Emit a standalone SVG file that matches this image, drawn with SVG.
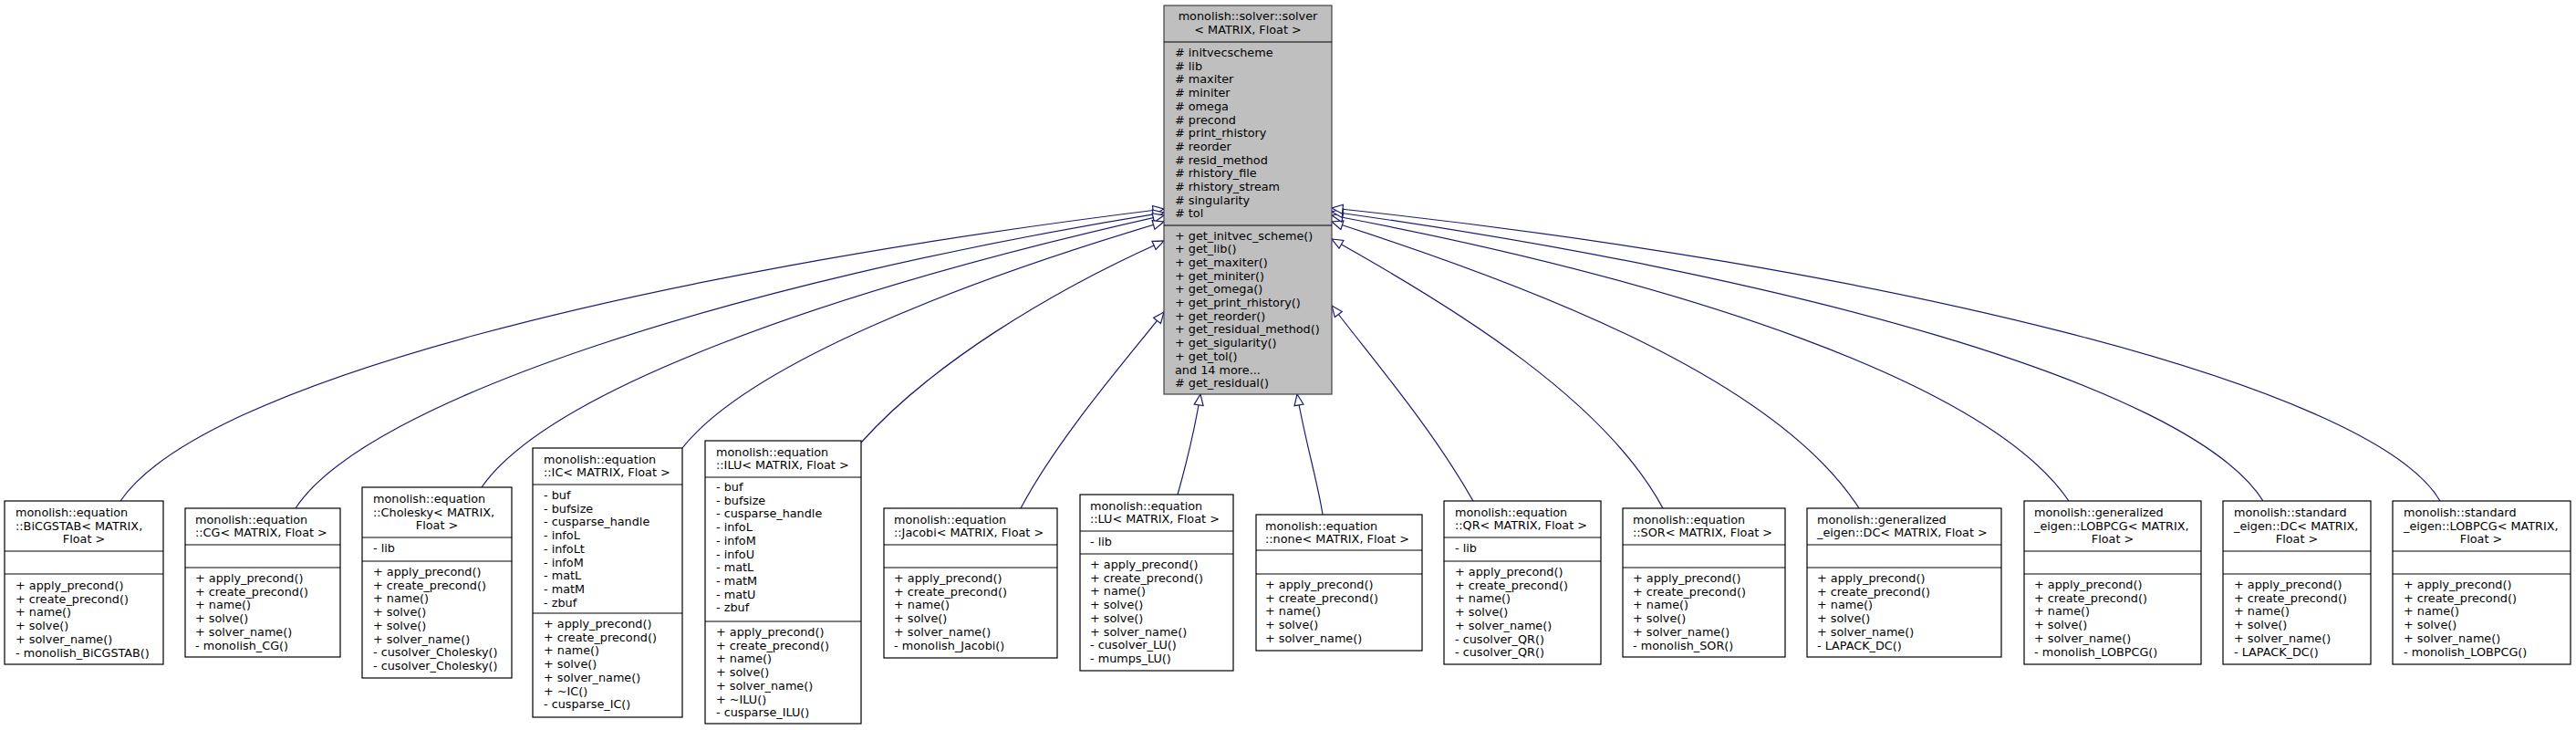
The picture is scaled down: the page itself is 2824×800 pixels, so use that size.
<svg xmlns="http://www.w3.org/2000/svg" width="2824" height="800" viewBox="0 0 2824 800">
<style>
text{font-family:"DejaVu Sans","Liberation Sans",sans-serif;font-size:12.8px;fill:#000}
.c{text-anchor:middle}
.box{fill:#fff;stroke:#000;stroke-width:1.2}
.base{fill:#bfbfbf;stroke:#404040;stroke-width:1.2}
.sep{stroke:#000;stroke-width:1.2}
.e{fill:none;stroke:#191970;stroke-width:1.2;marker-end:url(#tri)}
</style>
<defs>
<marker id="tri" markerWidth="14" markerHeight="12" refX="13" refY="6" orient="auto" markerUnits="userSpaceOnUse">
<path d="M1,1 L13,6 L1,11 Z" fill="#fff" stroke="#191970" stroke-width="1.2"/>
</marker>
</defs>
<g id="connectors">
<path class="e" d="M132,549 C220,420 700,300 1276,229"/>
<path class="e" d="M324,557 C400,440 800,310 1276,233"/>
<path class="e" d="M528,534 C600,430 900,320 1276,236"/>
<path class="e" d="M748,491 C820,400 1050,310 1276,243"/>
<path class="e" d="M944,485 C1020,400 1150,320 1276,264"/>
<path class="e" d="M1119,557 C1160,480 1230,400 1276,342"/>
<path class="e" d="M1291,542 C1300,510 1310,470 1316,432"/>
<path class="e" d="M1450,564 C1445,530 1430,480 1422,432"/>
<path class="e" d="M1615,549 C1570,470 1510,400 1460,335"/>
<path class="e" d="M1823,557 C1760,440 1600,340 1460,262"/>
<path class="e" d="M2038,557 C1950,420 1700,320 1460,243"/>
<path class="e" d="M2268,549 C2180,420 1850,310 1460,236"/>
<path class="e" d="M2481,549 C2400,420 1950,300 1460,232"/>
<path class="e" d="M2675,549 C2600,420 2050,290 1460,228"/>
</g>
<g id="solver">
<rect class="base" x="1276" y="6" width="184" height="426"/>
<text class="c" x="1368" y="22">monolish::solver::solver</text>
<text class="c" x="1368" y="37">&lt; MATRIX, Float &gt;</text>
<line class="sep" x1="1276" y1="46" x2="1460" y2="46"/>
<text x="1288" y="62"># initvecscheme</text>
<text x="1288" y="76.7"># lib</text>
<text x="1288" y="91.4"># maxiter</text>
<text x="1288" y="106.1"># miniter</text>
<text x="1288" y="120.8"># omega</text>
<text x="1288" y="135.5"># precond</text>
<text x="1288" y="150.2"># print_rhistory</text>
<text x="1288" y="164.9"># reorder</text>
<text x="1288" y="179.6"># resid_method</text>
<text x="1288" y="194.3"># rhistory_file</text>
<text x="1288" y="209"># rhistory_stream</text>
<text x="1288" y="223.7"># singularity</text>
<text x="1288" y="238.4"># tol</text>
<line class="sep" x1="1276" y1="247" x2="1460" y2="247"/>
<text x="1288" y="262.5">+ get_initvec_scheme()</text>
<text x="1288" y="277.2">+ get_lib()</text>
<text x="1288" y="291.9">+ get_maxiter()</text>
<text x="1288" y="306.6">+ get_miniter()</text>
<text x="1288" y="321.3">+ get_omega()</text>
<text x="1288" y="336">+ get_print_rhistory()</text>
<text x="1288" y="350.7">+ get_reorder()</text>
<text x="1288" y="365.4">+ get_residual_method()</text>
<text x="1288" y="380.1">+ get_sigularity()</text>
<text x="1288" y="394.8">+ get_tol()</text>
<text x="1288" y="409.5">and 14 more...</text>
<text x="1288" y="424.2"># get_residual()</text>
</g>
<g id="BiCGSTAB">
<rect class="box" x="5" y="549" width="174" height="179"/>
<text x="17" y="566">monolish::equation</text>
<text x="17" y="581">::BiCGSTAB&lt; MATRIX,</text>
<text class="c" x="92" y="595">Float &gt;</text>
<line class="sep" x1="5" y1="604" x2="179" y2="604"/>
<line class="sep" x1="5" y1="629" x2="179" y2="629"/>
<text x="17" y="646">+ apply_precond()</text>
<text x="17" y="660.7">+ create_precond()</text>
<text x="17" y="675.4">+ name()</text>
<text x="17" y="690.1">+ solve()</text>
<text x="17" y="704.8">+ solver_name()</text>
<text x="17" y="719.5">- monolish_BiCGSTAB()</text>
</g>
<g id="CG">
<rect class="box" x="203" y="557" width="170" height="163"/>
<text x="214" y="574">monolish::equation</text>
<text x="214" y="588">::CG&lt; MATRIX, Float &gt;</text>
<line class="sep" x1="203" y1="597" x2="373" y2="597"/>
<line class="sep" x1="203" y1="622" x2="373" y2="622"/>
<text x="214" y="638">+ apply_precond()</text>
<text x="214" y="652.7">+ create_precond()</text>
<text x="214" y="667.4">+ name()</text>
<text x="214" y="682.1">+ solve()</text>
<text x="214" y="696.8">+ solver_name()</text>
<text x="214" y="711.5">- monolish_CG()</text>
</g>
<g id="Cholesky">
<rect class="box" x="397" y="534" width="164" height="209"/>
<text x="409" y="551">monolish::equation</text>
<text x="409" y="565.7">::Cholesky&lt; MATRIX,</text>
<text class="c" x="479" y="580">Float &gt;</text>
<line class="sep" x1="397" y1="589" x2="561" y2="589"/>
<text x="409" y="605">- lib</text>
<line class="sep" x1="397" y1="615" x2="561" y2="615"/>
<text x="409" y="631">+ apply_precond()</text>
<text x="409" y="645.7">+ create_precond()</text>
<text x="409" y="660.4">+ name()</text>
<text x="409" y="675.1">+ solve()</text>
<text x="409" y="689.8">+ solve()</text>
<text x="409" y="704.5">+ solver_name()</text>
<text x="409" y="719.2">- cusolver_Cholesky()</text>
<text x="409" y="733.9">- cusolver_Cholesky()</text>
</g>
<g id="IC">
<rect class="box" x="584" y="491" width="164" height="295"/>
<text x="596" y="508">monolish::equation</text>
<text x="596" y="522">::IC&lt; MATRIX, Float &gt;</text>
<line class="sep" x1="584" y1="531" x2="748" y2="531"/>
<text x="596" y="547">- buf</text>
<text x="596" y="561.7">- bufsize</text>
<text x="596" y="576.4">- cusparse_handle</text>
<text x="596" y="591.1">- infoL</text>
<text x="596" y="605.8">- infoLt</text>
<text x="596" y="620.5">- infoM</text>
<text x="596" y="635.2">- matL</text>
<text x="596" y="649.9">- matM</text>
<text x="596" y="664.6">- zbuf</text>
<line class="sep" x1="584" y1="672" x2="748" y2="672"/>
<text x="596" y="688">+ apply_precond()</text>
<text x="596" y="702.7">+ create_precond()</text>
<text x="596" y="717.4">+ name()</text>
<text x="596" y="732.1">+ solve()</text>
<text x="596" y="746.8">+ solver_name()</text>
<text x="596" y="761.5">+ ~IC()</text>
<text x="596" y="776.2">- cusparse_IC()</text>
</g>
<g id="ILU">
<rect class="box" x="773" y="483" width="171" height="310"/>
<text x="785" y="500">monolish::equation</text>
<text x="785" y="514">::ILU&lt; MATRIX, Float &gt;</text>
<line class="sep" x1="773" y1="523" x2="944" y2="523"/>
<text x="785" y="538">- buf</text>
<text x="785" y="552.7">- bufsize</text>
<text x="785" y="567.4">- cusparse_handle</text>
<text x="785" y="582.1">- infoL</text>
<text x="785" y="596.8">- infoM</text>
<text x="785" y="611.5">- infoU</text>
<text x="785" y="626.2">- matL</text>
<text x="785" y="640.9">- matM</text>
<text x="785" y="655.6">- matU</text>
<text x="785" y="670.3">- zbuf</text>
<line class="sep" x1="773" y1="681" x2="944" y2="681"/>
<text x="785" y="697">+ apply_precond()</text>
<text x="785" y="711.7">+ create_precond()</text>
<text x="785" y="726.4">+ name()</text>
<text x="785" y="741.1">+ solve()</text>
<text x="785" y="755.8">+ solver_name()</text>
<text x="785" y="770.5">+ ~ILU()</text>
<text x="785" y="785.2">- cusparse_ILU()</text>
</g>
<g id="Jacobi">
<rect class="box" x="969" y="557" width="190" height="164"/>
<text x="980" y="574">monolish::equation</text>
<text x="980" y="588">::Jacobi&lt; MATRIX, Float &gt;</text>
<line class="sep" x1="969" y1="597" x2="1159" y2="597"/>
<line class="sep" x1="969" y1="622" x2="1159" y2="622"/>
<text x="980" y="638">+ apply_precond()</text>
<text x="980" y="652.7">+ create_precond()</text>
<text x="980" y="667.4">+ name()</text>
<text x="980" y="682.1">+ solve()</text>
<text x="980" y="696.8">+ solver_name()</text>
<text x="980" y="711.5">- monolish_Jacobi()</text>
</g>
<g id="LU">
<rect class="box" x="1184" y="542" width="168" height="193"/>
<text x="1195" y="559">monolish::equation</text>
<text x="1195" y="573">::LU&lt; MATRIX, Float &gt;</text>
<line class="sep" x1="1184" y1="582" x2="1352" y2="582"/>
<text x="1195" y="598">- lib</text>
<line class="sep" x1="1184" y1="607" x2="1352" y2="607"/>
<text x="1195" y="623">+ apply_precond()</text>
<text x="1195" y="637.7">+ create_precond()</text>
<text x="1195" y="652.4">+ name()</text>
<text x="1195" y="667.1">+ solve()</text>
<text x="1195" y="681.8">+ solve()</text>
<text x="1195" y="696.5">+ solver_name()</text>
<text x="1195" y="711.2">- cusolver_LU()</text>
<text x="1195" y="725.9">- mumps_LU()</text>
</g>
<g id="none">
<rect class="box" x="1377" y="564" width="182" height="149"/>
<text x="1387" y="581">monolish::equation</text>
<text x="1387" y="595">::none&lt; MATRIX, Float &gt;</text>
<line class="sep" x1="1377" y1="603" x2="1559" y2="603"/>
<line class="sep" x1="1377" y1="629" x2="1559" y2="629"/>
<text x="1387" y="645">+ apply_precond()</text>
<text x="1387" y="659.7">+ create_precond()</text>
<text x="1387" y="674.4">+ name()</text>
<text x="1387" y="689.1">+ solve()</text>
<text x="1387" y="703.8">+ solver_name()</text>
</g>
<g id="QR">
<rect class="box" x="1583" y="549" width="172" height="179"/>
<text x="1595" y="566">monolish::equation</text>
<text x="1595" y="580">::QR&lt; MATRIX, Float &gt;</text>
<line class="sep" x1="1583" y1="589" x2="1755" y2="589"/>
<text x="1595" y="605">- lib</text>
<line class="sep" x1="1583" y1="615" x2="1755" y2="615"/>
<text x="1595" y="631">+ apply_precond()</text>
<text x="1595" y="645.7">+ create_precond()</text>
<text x="1595" y="660.4">+ name()</text>
<text x="1595" y="675.1">+ solve()</text>
<text x="1595" y="689.8">+ solver_name()</text>
<text x="1595" y="704.5">- cusolver_QR()</text>
<text x="1595" y="719.2">- cusolver_QR()</text>
</g>
<g id="SOR">
<rect class="box" x="1779" y="557" width="178" height="163"/>
<text x="1790" y="574">monolish::equation</text>
<text x="1790" y="588">::SOR&lt; MATRIX, Float &gt;</text>
<line class="sep" x1="1779" y1="597" x2="1957" y2="597"/>
<line class="sep" x1="1779" y1="622" x2="1957" y2="622"/>
<text x="1790" y="638">+ apply_precond()</text>
<text x="1790" y="652.7">+ create_precond()</text>
<text x="1790" y="667.4">+ name()</text>
<text x="1790" y="682.1">+ solve()</text>
<text x="1790" y="696.8">+ solver_name()</text>
<text x="1790" y="711.5">- monolish_SOR()</text>
</g>
<g id="genDC">
<rect class="box" x="1981" y="557" width="213" height="163"/>
<text x="1992" y="574">monolish::generalized</text>
<text x="1992" y="588">_eigen::DC&lt; MATRIX, Float &gt;</text>
<line class="sep" x1="1981" y1="597" x2="2194" y2="597"/>
<line class="sep" x1="1981" y1="622" x2="2194" y2="622"/>
<text x="1992" y="638">+ apply_precond()</text>
<text x="1992" y="652.7">+ create_precond()</text>
<text x="1992" y="667.4">+ name()</text>
<text x="1992" y="682.1">+ solve()</text>
<text x="1992" y="696.8">+ solver_name()</text>
<text x="1992" y="711.5">- LAPACK_DC()</text>
</g>
<g id="genLOBPCG">
<rect class="box" x="2219" y="549" width="194" height="179"/>
<text x="2230" y="566">monolish::generalized</text>
<text x="2230" y="581">_eigen::LOBPCG&lt; MATRIX,</text>
<text class="c" x="2316" y="595">Float &gt;</text>
<line class="sep" x1="2219" y1="604" x2="2413" y2="604"/>
<line class="sep" x1="2219" y1="629" x2="2413" y2="629"/>
<text x="2230" y="645">+ apply_precond()</text>
<text x="2230" y="659.7">+ create_precond()</text>
<text x="2230" y="674.4">+ name()</text>
<text x="2230" y="689.1">+ solve()</text>
<text x="2230" y="703.8">+ solver_name()</text>
<text x="2230" y="718.5">- monolish_LOBPCG()</text>
</g>
<g id="stdDC">
<rect class="box" x="2437" y="549" width="162" height="179"/>
<text x="2449" y="566">monolish::standard</text>
<text x="2449" y="581">_eigen::DC&lt; MATRIX,</text>
<text class="c" x="2518" y="595">Float &gt;</text>
<line class="sep" x1="2437" y1="604" x2="2599" y2="604"/>
<line class="sep" x1="2437" y1="629" x2="2599" y2="629"/>
<text x="2449" y="645">+ apply_precond()</text>
<text x="2449" y="659.7">+ create_precond()</text>
<text x="2449" y="674.4">+ name()</text>
<text x="2449" y="689.1">+ solve()</text>
<text x="2449" y="703.8">+ solver_name()</text>
<text x="2449" y="718.5">- LAPACK_DC()</text>
</g>
<g id="stdLOBPCG">
<rect class="box" x="2623" y="549" width="195" height="179"/>
<text x="2635" y="566">monolish::standard</text>
<text x="2635" y="581">_eigen::LOBPCG&lt; MATRIX,</text>
<text class="c" x="2720" y="595">Float &gt;</text>
<line class="sep" x1="2623" y1="604" x2="2818" y2="604"/>
<line class="sep" x1="2623" y1="629" x2="2818" y2="629"/>
<text x="2635" y="645">+ apply_precond()</text>
<text x="2635" y="659.7">+ create_precond()</text>
<text x="2635" y="674.4">+ name()</text>
<text x="2635" y="689.1">+ solve()</text>
<text x="2635" y="703.8">+ solver_name()</text>
<text x="2635" y="718.5">- monolish_LOBPCG()</text>
</g>
</svg>
